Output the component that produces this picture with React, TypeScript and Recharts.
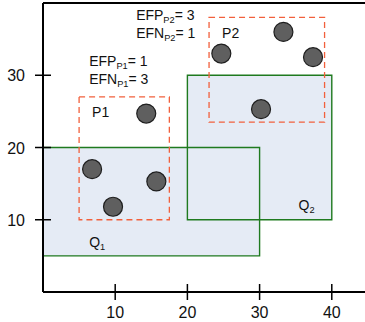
import React from 'react';
import { ScatterChart, Scatter, XAxis, YAxis, ReferenceArea, ReferenceLine, ReferenceDot } from 'recharts';

// data points (x, y)
const points = [
  { x: 14.3, y: 24.7 },
  { x: 6.8, y: 17.0 },
  { x: 9.7, y: 11.8 },
  { x: 15.7, y: 15.3 },
  { x: 33.3, y: 36.0 },
  { x: 24.7, y: 33.0 },
  { x: 37.4, y: 32.5 },
  { x: 30.2, y: 25.3 },
];

// query rectangles Q1, Q2 and prediction boxes P1, P2
const queries = [
  { name: 'Q1', x1: 0, x2: 30, y1: 5, y2: 20 },
  { name: 'Q2', x1: 20, x2: 40, y1: 10, y2: 30 },
];
const predictions = [
  { name: 'P1', x1: 5, x2: 17.5, y1: 10, y2: 27 },
  { name: 'P2', x1: 23, x2: 39, y1: 23.5, y2: 38 },
];

const xTicks = [10, 20, 30, 40];
const yTicks = [10, 20, 30];

// text labels: main text, subscript, trailing text, anchored at data coords
const labels = [
  { x: 12.9, y: 37.7, main: 'EFP', sub: 'P2', tail: '= 3', size: 14 },
  { x: 12.9, y: 35.2, main: 'EFN', sub: 'P2', tail: '= 1', size: 14 },
  { x: 6.4, y: 31.3, main: 'EFP', sub: 'P1', tail: '= 1', size: 14 },
  { x: 6.4, y: 28.8, main: 'EFN', sub: 'P1', tail: '= 3', size: 14 },
  { x: 6.8, y: 24.2, main: 'P1', sub: '', tail: '', size: 14 },
  { x: 24.8, y: 35.1, main: 'P2', sub: '', tail: '', size: 14 },
  { x: 6.4, y: 6.2, main: 'Q', sub: '1', tail: '', size: 14 },
  { x: 35.4, y: 11.3, main: 'Q', sub: '2', tail: '', size: 14 },
];

const FONT = '"Liberation Sans", Arial, sans-serif';
const GREEN = '#1f7a1f';
const RED = '#f2603c';

const XTick = (props: any) => {
  const { x, y, payload } = props;
  return (
    <g>
      <line x1={x} x2={x} y1={y - 8} y2={y + 8} stroke="#000" strokeWidth={1.5} />
      <text x={x} y={y + 26} textAnchor="middle" fontSize={16} fontFamily={FONT} fill="#111">
        {payload.value}
      </text>
    </g>
  );
};

const YTick = (props: any) => {
  const { x, y, payload } = props;
  return (
    <g>
      <line x1={x - 8} x2={x + 8} y1={y} y2={y} stroke="#000" strokeWidth={1.5} />
      <text x={x - 18} y={y + 6} textAnchor="end" fontSize={16} fontFamily={FONT} fill="#111">
        {payload.value}
      </text>
    </g>
  );
};

const Dot = (props: any) => (
  <circle cx={props.cx} cy={props.cy} r={9.5} fill="#5f5f5f" stroke="#1e1e1e" strokeWidth={1.2} />
);

const makeLabel = (l: typeof labels[number]) => (p: any) => {
  const vb = p.viewBox;
  return (
    <text x={vb.x + 1} y={vb.y + 1} fontSize={l.size} fontFamily={FONT} fill="#111">
      <tspan>{l.main}</tspan>
      {l.sub && (
        <tspan fontSize={l.size * 0.66} dy={3}>
          {l.sub}
        </tspan>
      )}
      {l.tail && (
        <tspan fontSize={l.size} dy={-3}>
          {l.tail}
        </tspan>
      )}
    </text>
  );
};

const App: React.FC = () => {
  return (
    <div style={{ position: 'absolute', left: 0, top: 0, background: '#fff' }}>
      <ScatterChart width={365} height={322} margin={{ top: 3, right: 0, bottom: 0, left: 0 }}>
        <XAxis
          type="number"
          dataKey="x"
          domain={[0, 44.6]}
          ticks={xTicks}
          allowDataOverflow
          height={30}
          tickLine={false}
          tickSize={0}
          tickMargin={0}
          tick={<XTick />}
          axisLine={{ stroke: '#000', strokeWidth: 2 }}
        />
        <YAxis
          type="number"
          dataKey="y"
          domain={[0, 40]}
          ticks={yTicks}
          allowDataOverflow
          width={43}
          tickLine={false}
          tickSize={0}
          tickMargin={0}
          tick={<YTick />}
          axisLine={{ stroke: '#000', strokeWidth: 2 }}
        />
        <ReferenceLine y={40} stroke="#000" strokeWidth={2} />
        {queries.map((q) => (
          <ReferenceArea key={q.name + 'f'} x1={q.x1} x2={q.x2} y1={q.y1} y2={q.y2} fill="#e5ebf5" fillOpacity={1} stroke="none" />
        ))}
        {queries.map((q) => (
          <ReferenceArea key={q.name + 's'} x1={q.x1} x2={q.x2} y1={q.y1} y2={q.y2} fill="none" stroke={GREEN} strokeWidth={1.4} />
        ))}
        {predictions.map((p) => (
          <ReferenceArea key={p.name} x1={p.x1} x2={p.x2} y1={p.y1} y2={p.y2} fill="none" stroke={RED} strokeWidth={1.3} strokeDasharray="6 4" />
        ))}
        <Scatter data={points} shape={<Dot />} isAnimationActive={false} />
        {labels.map((l, i) => (
          <ReferenceDot key={i} x={l.x} y={l.y} r={1} fill="none" stroke="none" label={makeLabel(l)} />
        ))}
      </ScatterChart>
    </div>
  );
};

export default App;
